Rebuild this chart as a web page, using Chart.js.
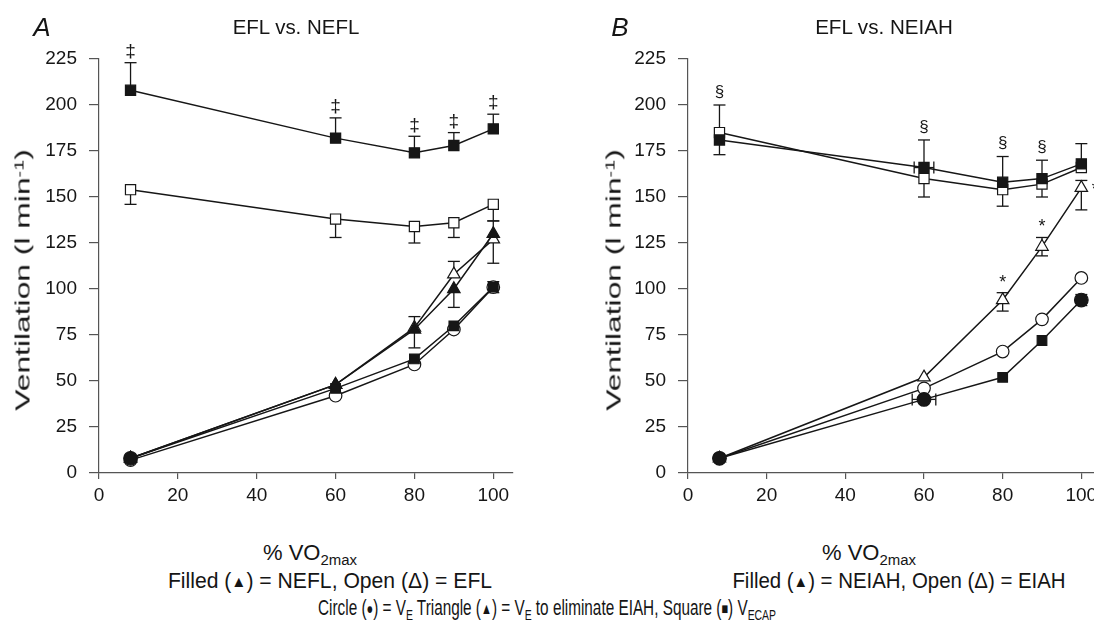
<!DOCTYPE html>
<html>
<head>
<meta charset="utf-8">
<script src="https://cdn.jsdelivr.net/npm/chart.js@4.4.1/dist/chart.umd.min.js"></script>
<style>
  html, body { margin: 0; padding: 0; background: #fff; width: 1094px; height: 625px; overflow: hidden; }
  body { position: relative; font-family: "Liberation Sans", Arial, sans-serif; color: #151515; }
  canvas { position: absolute; top: 0; }
  .t { position: absolute; white-space: nowrap; line-height: 1; transform: translate(-50%, -50%); }
  .s { font-size: 0.68em; position: relative; top: 0.35em; }
  .sup { font-size: 0.62em; position: relative; top: -0.5em; }
  .g { font-size: 0.72em; position: relative; top: -0.08em; }
</style>
</head>
<body>
<canvas id="chartA" width="545" height="520" style="left:0px"></canvas>
<canvas id="chartB" width="545" height="520" style="left:590px"></canvas>

<div class="t" style="left:42px;top:27px;font-size:26px;font-style:italic">A</div>
<div class="t fit" data-w="127" style="left:296px;top:27px;font-size:20px">EFL vs. NEFL</div>
<div class="t" style="left:620px;top:27px;font-size:26px;font-style:italic">B</div>
<div class="t fit" data-w="138" style="left:884px;top:27px;font-size:20px">EFL vs. NEIAH</div>

<div class="t fit" data-w="262" data-rot="1" style="left:22px;top:280px;font-size:21px">Ventilation (l min<span class="sup">-1</span>)</div>
<div class="t fit" data-w="262" data-rot="1" style="left:613px;top:280px;font-size:21px">Ventilation (l min<span class="sup">-1</span>)</div>

<div class="t fit" data-w="94" style="left:310px;top:553px;font-size:22px">% VO<span class="s">2max</span></div>
<div class="t fit" data-w="324" style="left:330px;top:581px;font-size:22px">Filled (<span class="g">▲</span>) = NEFL, Open (Δ) = EFL</div>
<div class="t fit" data-w="94" style="left:869px;top:553px;font-size:22px">% VO<span class="s">2max</span></div>
<div class="t fit" data-w="333" style="left:899px;top:581px;font-size:22px">Filled (<span class="g">▲</span>) = NEIAH, Open (Δ) = EIAH</div>
<div class="t fit" data-w="458" style="left:547px;top:608px;font-size:22px">Circle (<span class="g">●</span>) = V<span class="s">E</span> Triangle (<span class="g">▲</span>) = V<span class="s">E</span> to eliminate EIAH, Square (<span class="g">■</span>) V<span class="s">ECAP</span></div>

<script>
// x positions (% VO2max) shared by every series
const PCT_VO2 = [8, 60, 80, 90, 100];
const X_TICKS = [0, 20, 40, 60, 80, 100];
const Y_TICKS = [0, 25, 50, 75, 100, 125, 150, 175, 200, 225];

// Panel A: EFL vs. NEFL
const A_SQ_NEFL = [208, 182, 174, 178, 187];
const A_SQ_NEFL_UP = [15, 11, 9, 7, 8];
const A_SQ_EFL = [154, 138, 134, 136, 146];
const A_SQ_EFL_DOWN = [8, 10, 9, 8, 9];
const A_TRI_NEFL = [8, 48, 78, 100, 130];
const A_TRI_NEFL_DOWN = [0, 0, 10, 10, 16];
const A_TRI_EFL = [8, 48, 79, 108, 127];
const A_TRI_EFL_UP = [0, 0, 6, 7, 10];
const A_CIR_NEFL = [8, 46, 62, 80, 101];
const A_CIR_NEFL_ERR = [0, 0, 0, 0, 3];
const A_CIR_EFL = [7, 42, 59, 78, 101];
const A_MARKS = ['‡', '‡', '‡', '‡', '‡'];

// Panel B: EFL vs. NEIAH
const B_SQ_NEIAH = [181, 166, 158, 160, 168];
const B_SQ_NEIAH_UP = [0, 15, 14, 10, 11];
const B_SQ_NEIAH_DOWN = [8, 0, 0, 0, 0];
const B_SQ_NEIAH_HORIZ = [0, 2.5, 0, 0, 0];
const B_SQ_EIAH = [185, 160, 154, 157, 166];
const B_SQ_EIAH_UP = [15, 0, 0, 0, 0];
const B_SQ_EIAH_DOWN = [0, 10, 9, 7, 0];
const B_TRI_EIAH = [8, 52, 94, 123, 155];
const B_TRI_EIAH_UP = [0, 0, 4, 5, 4];
const B_TRI_EIAH_DOWN = [0, 0, 6, 5, 12];
const B_CIR_EIAH = [8, 46, 66, 83.5, 106];
const B_CIR_NEIAH = [8, 40, 52, 72, 94];
const B_CIR_NEIAH_ERR = [0, 0, 0, 0, 3];
const B_CIR_NEIAH_HORIZ = [0, 3, 0, 0, 0];
const B_SQ_MARKS = ['§', '§', '§', '§', null];
const B_TRI_MARKS = [null, null, '*', '*', '*'];

const INK = '#161616';

// squeeze or stretch the label texts to the widths they have in the figure
document.querySelectorAll('.fit').forEach(el => {
  const k = Number(el.dataset.w) / el.offsetWidth;
  el.style.transform = 'translate(-50%, -50%)' + (el.dataset.rot ? ' rotate(-90deg)' : '') + ' scaleX(' + k + ')';
});

function pts(ys) {
  return PCT_VO2.map((x, i) => ({ x: x, y: ys[i] }));
}

function series(ys, style, filled, extra) {
  return Object.assign({
    data: pts(ys),
    borderColor: INK,
    borderWidth: 1.5,
    pointStyle: style,
    pointRadius: style === 'circle' ? 6.3 : 7.2,
    pointBackgroundColor: filled ? INK : '#fff',
    pointBorderColor: INK,
    pointBorderWidth: 1.2,
    tension: 0,
    fill: false
  }, extra || {});
}

const errorBars = {
  id: 'errorBars',
  beforeDatasetsDraw(chart) {
    const { ctx, scales: { x, y } } = chart;
    const cap = 6;
    ctx.save();
    ctx.strokeStyle = INK;
    ctx.lineWidth = 1.3;
    const seg = (x1, y1, x2, y2) => { ctx.beginPath(); ctx.moveTo(x1, y1); ctx.lineTo(x2, y2); ctx.stroke(); };
    chart.data.datasets.forEach((ds) => {
      ds.data.forEach((p, j) => {
        const px = x.getPixelForValue(p.x);
        const py = y.getPixelForValue(p.y);
        const up = ds.errUp ? ds.errUp[j] : 0;
        const dn = ds.errDown ? ds.errDown[j] : 0;
        const hz = ds.errX ? ds.errX[j] : 0;
        if (up) {
          const ty = y.getPixelForValue(p.y + up);
          seg(px, py, px, ty); seg(px - cap, ty, px + cap, ty);
        }
        if (dn) {
          const by = y.getPixelForValue(p.y - dn);
          seg(px, py, px, by); seg(px - cap, by, px + cap, by);
        }
        if (hz) {
          const lx = x.getPixelForValue(p.x - hz);
          const rx = x.getPixelForValue(p.x + hz);
          seg(lx, py, rx, py);
          seg(lx, py - cap, lx, py + cap);
          seg(rx, py - cap, rx, py + cap);
        }
      });
    });
    ctx.restore();
  },
  afterDatasetsDraw(chart) {
    const { ctx, scales: { x, y } } = chart;
    const all = chart.data.datasets;
    ctx.save();
    ctx.fillStyle = INK;
    ctx.textAlign = 'center';
    ctx.textBaseline = 'middle';
    all.forEach((ds) => {
      if (!ds.marks) return;
      ds.data.forEach((p, j) => {
        const m = ds.marks[j];
        if (!m) return;
        const px = x.getPixelForValue(p.x);
        if (m === '*') {
          ctx.font = '18px "Liberation Sans", Arial, sans-serif';
          if (j === ds.data.length - 1) {
            ctx.fillText(m, px + 14, y.getPixelForValue(p.y) + 2);
          } else {
            ctx.fillText(m, px, y.getPixelForValue(p.y + (ds.errUp ? ds.errUp[j] : 0)) - 10);
          }
          return;
        }
        // symbol sits above the highest error bar at that x
        let top = p.y;
        all.forEach(o => {
          if (o.data[j] && o.data[j].y > p.y - 20) {
            top = Math.max(top, o.data[j].y + (o.errUp ? o.errUp[j] : 0));
          }
        });
        ctx.font = (m === '‡' ? '19px' : '17px') + ' "Liberation Sans", Arial, sans-serif';
        ctx.fillText(m, px, y.getPixelForValue(top) - (m === '‡' ? 11 : 13));
      });
    });
    ctx.restore();
  }
};

function makeChart(id, datasets, axisLeft, padRight) {
  return new Chart(document.getElementById(id), {
    type: 'line',
    data: { datasets: datasets },
    options: {
      responsive: false,
      animation: false,
      layout: { padding: { left: 0, top: 59, right: padRight, bottom: 0 } },
      plugins: { legend: { display: false }, tooltip: { enabled: false } },
      scales: {
        x: {
          type: 'linear',
          min: 0,
          max: 105,
          afterBuildTicks: (s) => { s.ticks = X_TICKS.map(v => ({ value: v })); },
          afterFit: (s) => { s.height = 47; },
          grid: { drawOnChartArea: false, drawTicks: true, tickLength: 6, color: '#555', lineWidth: 1.2 },
          border: { display: true, color: '#555', width: 1.2 },
          ticks: { color: INK, font: { size: 19 }, padding: 5, maxRotation: 0 }
        },
        y: {
          min: 0,
          max: 225,
          afterBuildTicks: (s) => { s.ticks = Y_TICKS.map(v => ({ value: v })); },
          afterFit: (s) => { s.width = axisLeft; },
          grid: { drawOnChartArea: false, drawTicks: true, tickLength: 10, color: '#555', lineWidth: 1.2 },
          border: { display: true, color: '#555', width: 1.2 },
          ticks: { color: INK, font: { size: 19 }, padding: 12 }
        }
      }
    },
    plugins: [errorBars]
  });
}

Chart.defaults.font.family = '"Liberation Sans", Arial, sans-serif';

makeChart('chartA', [
  series(A_SQ_NEFL, 'rect', true, { errUp: A_SQ_NEFL_UP, marks: A_MARKS }),
  series(A_SQ_EFL, 'rect', false, { errDown: A_SQ_EFL_DOWN }),
  series(A_CIR_NEFL, ['circle', 'rect', 'rect', 'rect', 'rect'], true, { errUp: A_CIR_NEFL_ERR, errDown: A_CIR_NEFL_ERR, pointRadius: 6.8 }),
  series(A_TRI_NEFL, 'triangle', true, { errDown: A_TRI_NEFL_DOWN }),
  series(A_TRI_EFL, 'triangle', false, { errUp: A_TRI_EFL_UP }),
  series(A_CIR_EFL, 'circle', false)
], 99, 32);

makeChart('chartB', [
  series(B_SQ_NEIAH, 'rect', true, { errUp: B_SQ_NEIAH_UP, errDown: B_SQ_NEIAH_DOWN, errX: B_SQ_NEIAH_HORIZ, marks: B_SQ_MARKS }),
  series(B_SQ_EIAH, 'rect', false, { errUp: B_SQ_EIAH_UP, errDown: B_SQ_EIAH_DOWN }),
  series(B_CIR_NEIAH, ['circle', 'circle', 'rect', 'rect', 'circle'], true, { errUp: B_CIR_NEIAH_ERR, errDown: B_CIR_NEIAH_ERR, errX: B_CIR_NEIAH_HORIZ, pointRadius: 6.8 }),
  series(B_TRI_EIAH, 'triangle', false, { errUp: B_TRI_EIAH_UP, errDown: B_TRI_EIAH_DOWN, marks: B_TRI_MARKS }),
  series(B_CIR_EIAH, 'circle', false)
], 98, 34);
</script>
</body>
</html>
